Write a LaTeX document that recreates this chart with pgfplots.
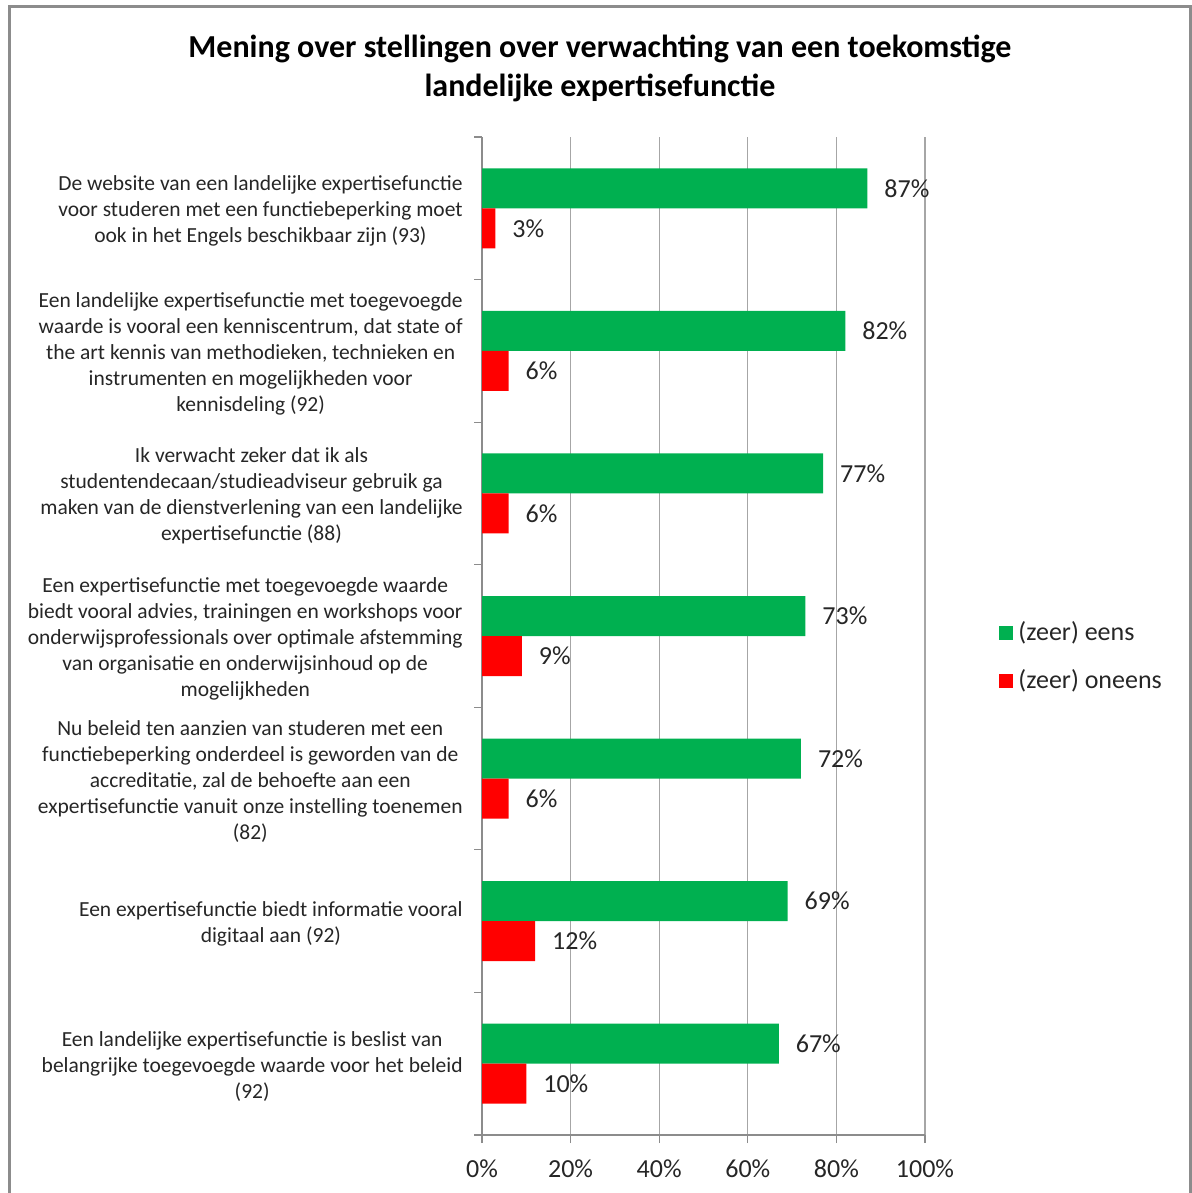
\documentclass[border=0pt]{standalone}
\usepackage{pgfplots}
\pgfplotsset{compat=1.18}
\usepackage{fontspec}
\setmainfont{Carlito}
\definecolor{cgreen}{HTML}{00B050}
\definecolor{cred}{HTML}{FF0000}
\definecolor{axgray}{HTML}{8C8C8C}
\definecolor{gridgray}{HTML}{A6A6A6}
\begin{document}
\begin{tikzpicture}
\useasboundingbox (0,0) rectangle (596pt,596.5pt);
\draw[axgray, line width=1.3pt] (4.75pt,-5pt) -- (4.75pt,593.3pt) -- (595.3pt,593.3pt) -- (595.3pt,-5pt);
\begin{axis}[
  at={(241pt,29pt)}, anchor=south west,
  scale only axis, width=221.5pt, height=499pt,
  xbar, bar width=20pt,
  xmin=0, xmax=100, ymin=-0.5, ymax=6.5,
  axis x line=bottom, axis y line=left,
  axis line style={-, draw=axgray, line width=0.6pt},
  xtick={0,20,...,100},
  xticklabel={\pgfmathprintnumber{\tick}\%},
  /pgf/number format/assume math mode=true,
  xmajorgrids, grid style={draw=gridgray, line width=0.6pt},
  tick align=outside, major tick length=4pt,
  x tick style={draw=axgray, line width=0.6pt},
  ytick={0,...,6},
  y tick style={draw=none},
  yticklabels={
    {Een landelijke expertisefunctie is beslist van\\belangrijke toegevoegde waarde voor het beleid\\(92)},
    {Een expertisefunctie biedt informatie vooral\\digitaal aan (92)},
    {Nu beleid ten aanzien van studeren met een\\functiebeperking onderdeel is geworden van de\\accreditatie, zal de behoefte aan een\\expertisefunctie vanuit onze instelling toenemen\\(82)},
    {Een expertisefunctie met toegevoegde waarde\\biedt vooral advies, trainingen en workshops voor\\onderwijsprofessionals over optimale afstemming\\van organisatie en onderwijsinhoud op de\\mogelijkheden},
    {Ik verwacht zeker dat ik als\\studentendecaan/studieadviseur gebruik ga\\maken van de dienstverlening van een landelijke\\expertisefunctie (88)},
    {Een landelijke expertisefunctie met toegevoegde\\waarde is vooral een kenniscentrum, dat state of\\the art kennis van methodieken, technieken en\\instrumenten en mogelijkheden voor\\kennisdeling (92)},
    {De website van een landelijke expertisefunctie\\voor studeren met een functiebeperking moet\\ook in het Engels beschikbaar zijn (93)}
  },
  yticklabel style={align=center, font=\fontsize{10.75}{13}\selectfont, text=black!85, inner sep=0pt, xshift=-5.5pt, yshift=-1.3pt},
  xticklabel style={font=\fontsize{13}{15}\selectfont, text=black!85, yshift=-5pt},
  extra y ticks={-0.5,0.5,...,6.5},
  extra y tick labels={},
  extra y tick style={y tick style={draw=axgray, line width=0.6pt}, ymajorgrids=false},
  nodes near coords={\pgfmathprintnumber{\pgfplotspointmeta}\%},
  nodes near coords style={font=\fontsize{13}{15}\selectfont, text=black!85, anchor=west, xshift=5pt},
  title={Mening over stellingen over verwachting van een toekomstige\\landelijke expertisefunctie},
  title style={at={(0.2664,1.0566)}, anchor=center, align=center, font=\bfseries\fontsize{16}{19.3}\selectfont},
  legend style={at={(1.165,0.479)}, anchor=west, draw=none, fill=none, inner sep=0pt,
    font=\fontsize{13}{15}\selectfont, text=black!85, row sep=9pt, nodes={inner xsep=3pt}},
  legend cell align=left,
  legend image code/.code={\fill[#1] (0pt,-3.5pt) rectangle (7pt,3.5pt);},
]
\addplot[fill=cgreen, draw=none, bar shift=10pt] coordinates {
  (67,0) (69,1) (72,2) (73,3) (77,4) (82,5) (87,6)};
\addplot[fill=cred, draw=none, bar shift=-10pt] coordinates {
  (10,0) (12,1) (6,2) (9,3) (6,4) (6,5) (3,6)};
\legend{(zeer) eens,(zeer) oneens}
\end{axis}
\end{tikzpicture}
\end{document}
